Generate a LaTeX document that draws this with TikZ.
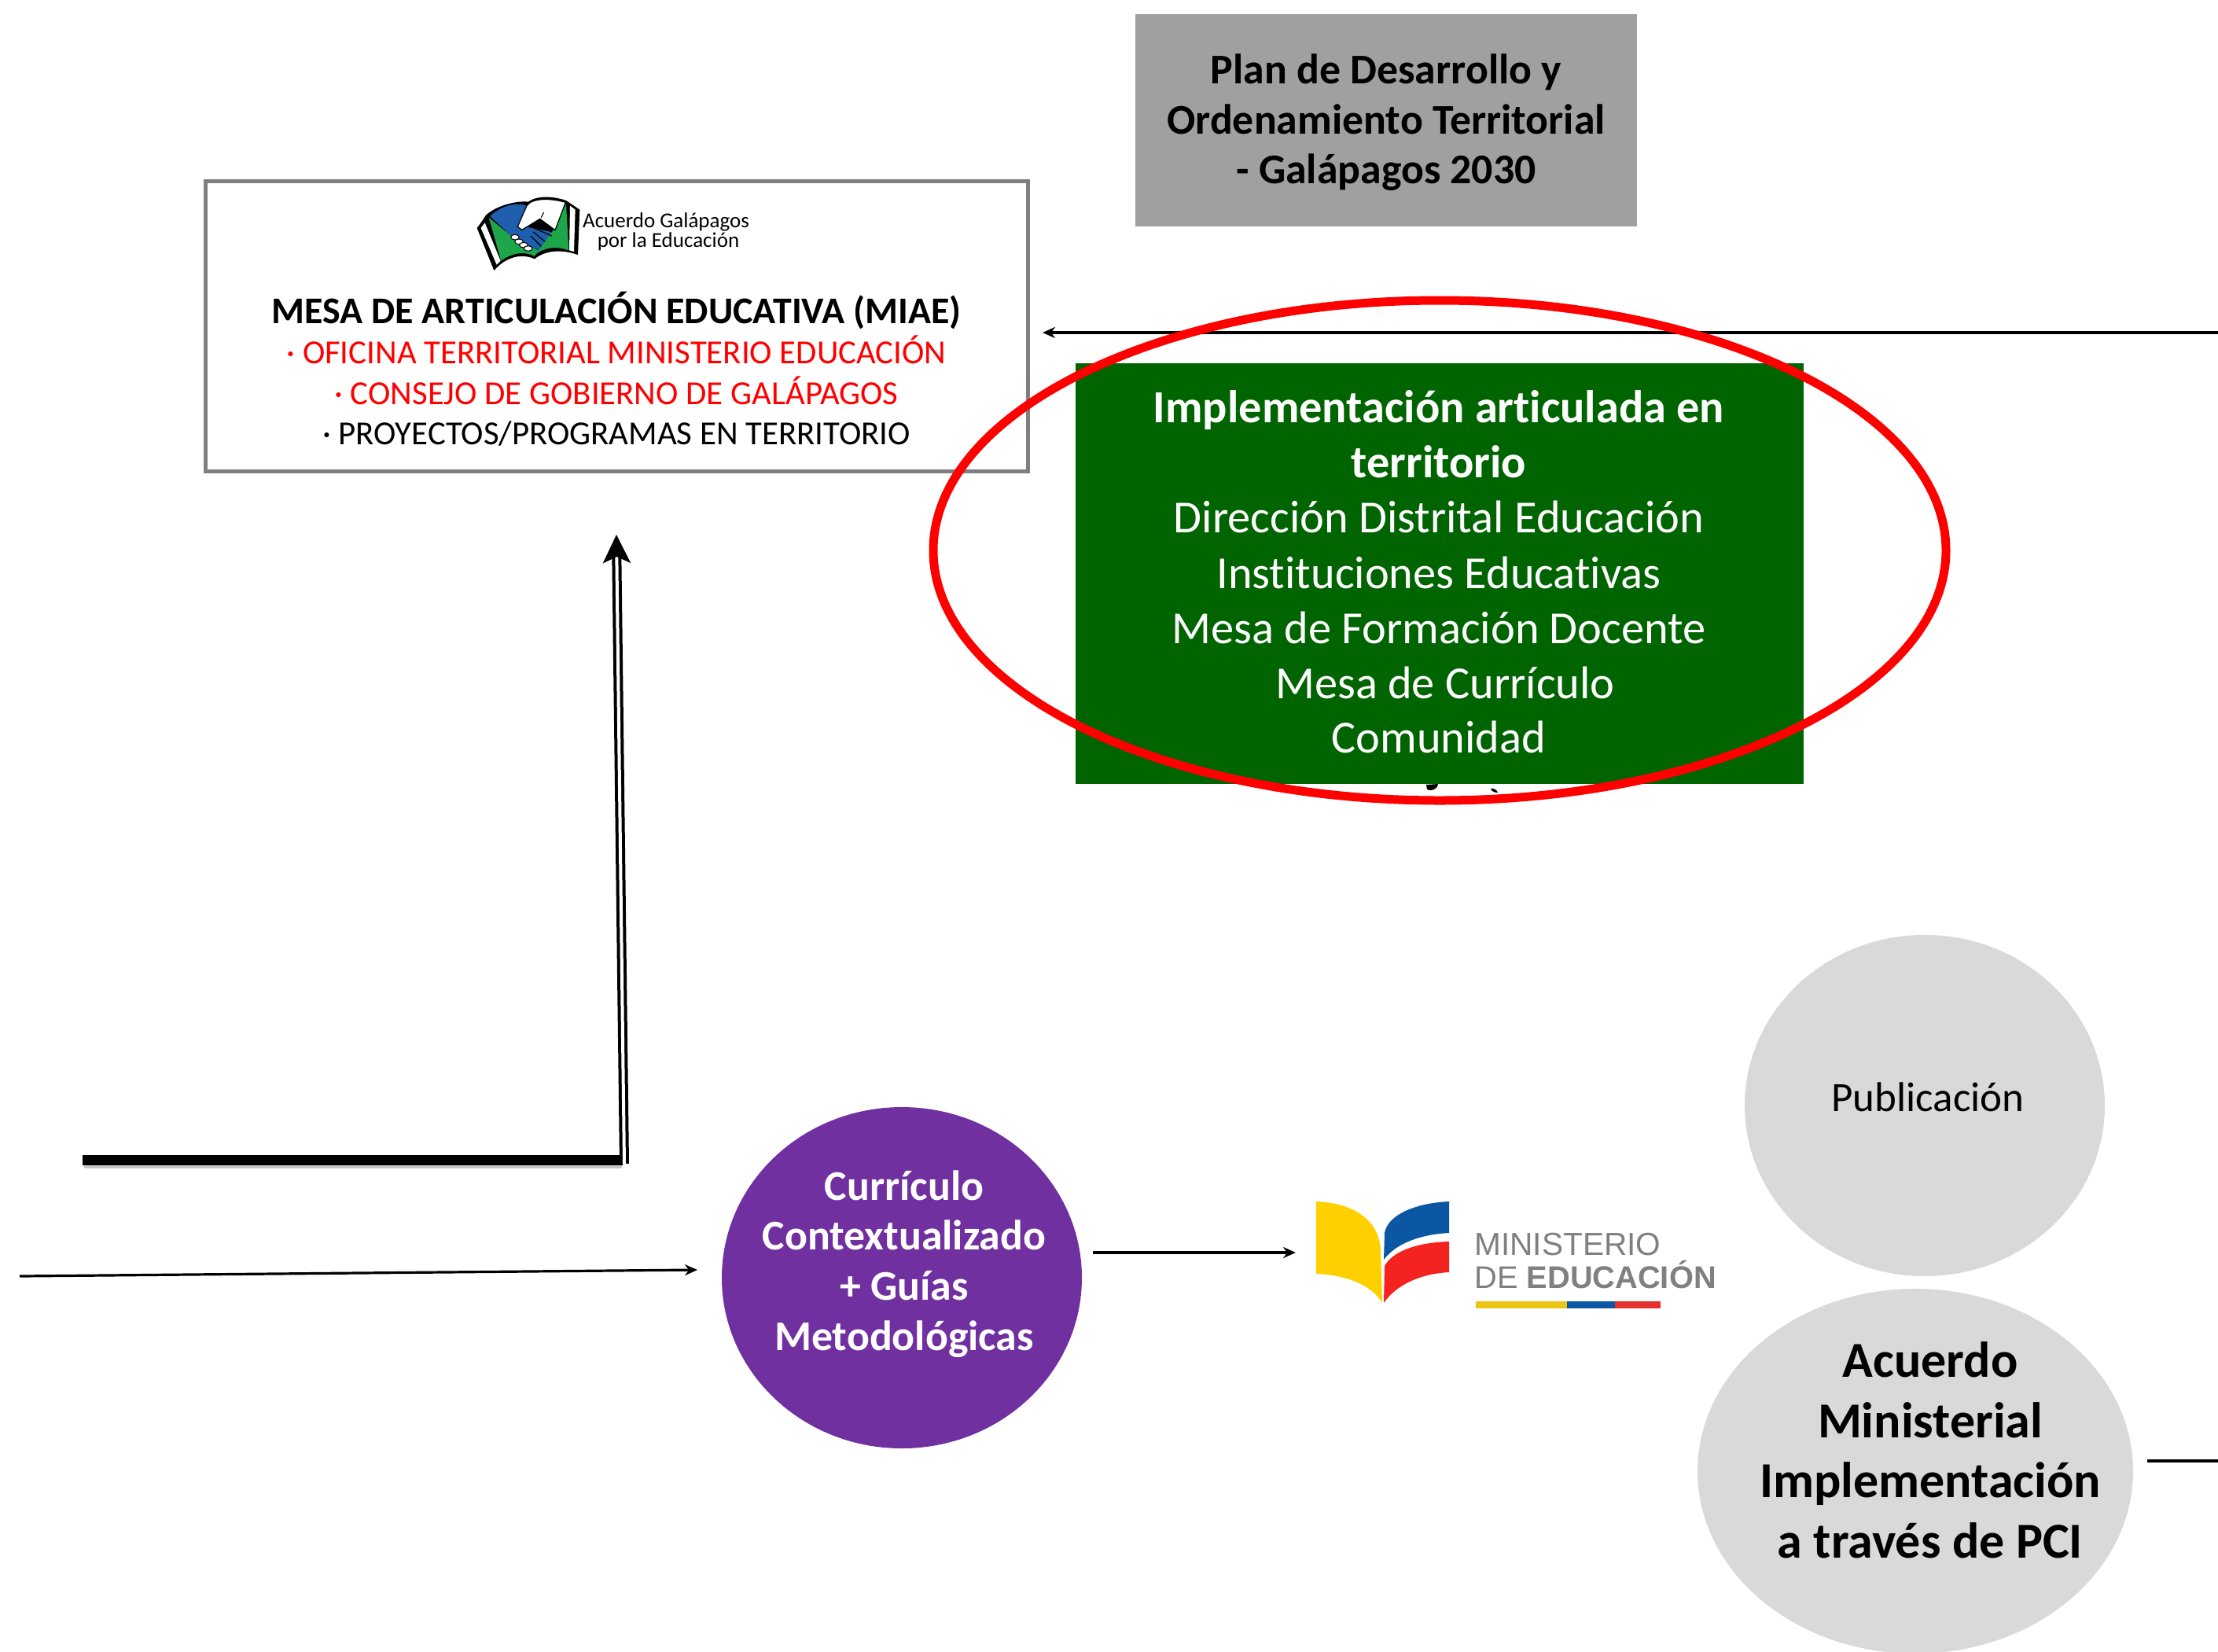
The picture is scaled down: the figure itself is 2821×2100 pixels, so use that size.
\documentclass[tikz,border=0pt]{standalone}
\usepackage{fontspec}
\setmainfont{Carlito}[Ligatures=CommonOff]
\newfontfamily\logosans{Liberation Sans}
\usetikzlibrary{arrows.meta,shapes.geometric}
\definecolor{boxgray}{HTML}{A0A0A0}
\definecolor{framegray}{HTML}{7F7F7F}
\definecolor{darkgreen}{HTML}{006400}
\definecolor{purp}{HTML}{7030A0}
\definecolor{circgray}{HTML}{D9D9D9}
\definecolor{bkblue}{HTML}{1F5FAE}
\definecolor{bkgreen}{HTML}{1EA64A}
\definecolor{meyellow}{HTML}{FFD000}
\definecolor{meblue}{HTML}{0B57A4}
\definecolor{mered}{HTML}{F5231F}
\definecolor{megray}{HTML}{808080}
\tikzset{
  x=0.5pt,y=-0.5pt,
  txt/.style={inner sep=0pt,outer sep=0pt,align=center,anchor=base,yshift=-0.327*#1 pt},
  shapebox/.style={inner sep=0pt,outer sep=0pt,anchor=north west},
  oval/.style={ellipse,inner sep=0pt,outer sep=0pt,anchor=center},
  thinarrow/.style={line width=1.6pt,-{Stealth[length=8pt,width=7pt]}},
  thinline/.style={line width=1.6pt},
}
\newcommand{\fa}{\fontsize{26.9}{32}\selectfont}
\newcommand{\fb}{\fontsize{21.4}{26}\selectfont}
\newcommand{\fbb}{\fontsize{24}{26}\selectfont}
\newcommand{\fc}{\fontsize{29.2}{35}\selectfont}
\newcommand{\fd}{\fontsize{32}{38.4}\selectfont}
\newcommand{\fe}{\fontsize{26.5}{29}\selectfont}
\begin{document}
\begin{tikzpicture}
\useasboundingbox (0,0) rectangle (2821,2100);
% grey plan box
\node[shapebox,fill=boxgray,minimum width=319pt,minimum height=135pt] (plan) at (1444,18) {};
\node[txt=26.9,font=\fa\bfseries] (plana) at (1763,89) {Plan de Desarrollo y};
\node[txt=26.9,font=\fa\bfseries] (planb) at (1763,153) {Ordenamiento Territorial};
\node[txt=26.9,font=\fa\bfseries] (planc) at (1763,216) {- Galápagos 2030};
% MIAE box
\node[shapebox,draw=framegray,line width=2.5pt,fill=white,minimum width=523pt,minimum height=184.5pt] (miae) at (261,230) {};
\node[txt=24,font=\fbb\bfseries] (miaet) at (784,396) {MESA DE ARTICULACIÓN EDUCATIVA (MIAE)};
\node[txt=21.4,font=\fb,text=red] (miaea) at (784,448) {· OFICINA TERRITORIAL MINISTERIO EDUCACIÓN};
\node[txt=21.4,font=\fb,text=red] (miaeb) at (784,500) {· CONSEJO DE GOBIERNO DE GALÁPAGOS};
\node[txt=21.4,font=\fb] (miaec) at (784,551) {· PROYECTOS/PROGRAMAS EN TERRITORIO};
% small logo
\begin{scope}[shift={(560,220)},x=0.16667pt,y=-0.16667pt]
\fill[black] (140,210) -- (205,372) .. controls (260,310) and (320,310) .. (360,328) .. controls (400,295) and (460,290) .. (525,312) -- (532,140) -- (480,105) .. controls (430,88) and (370,85) .. (335,110) .. controls (300,105) and (220,120) .. (175,160) -- (155,190) -- cycle;
\fill[white] (155,210) -- (215,350) -- (230,335) -- (170,190) -- cycle;
\fill[white] (495,125) -- (515,140) -- (510,300) -- (492,295) -- cycle;
\fill[bkgreen] (185,170) -- (232,335) .. controls (280,300) and (330,300) .. (360,318) -- (372,295) -- (270,240) -- cycle;
\fill[bkgreen] (480,118) -- (490,295) .. controls (450,280) and (400,280) .. (362,312) -- (372,295) -- (430,220) -- cycle;
\fill[bkblue] (190,165) .. controls (230,125) and (290,110) .. (330,125) -- (300,200) -- (425,225) -- (375,295) -- (270,240) -- cycle;
\draw[black,line width=0.6pt,fill=white] (330,125) .. controls (350,95) and (420,95) .. (478,112) -- (438,218) -- (380,175) -- (312,217) -- (295,205) -- cycle;
\draw[black,line width=0.6pt] (395,150) -- (385,170) (345,205) -- (425,240) (355,225) -- (400,262) (345,240) -- (385,280);
\foreach \a/\b in {285/245,300/262,318/275,335/288}
  \draw[black,line width=0.5pt,fill=white] (\a,\b) ellipse [x radius=16,y radius=10];
\end{scope}
\node[txt=13.5,font=\fontsize{13.5}{13}\selectfont] (lga) at (847,281) {Acuerdo Galápagos};
\node[txt=13.5,font=\fontsize{13.5}{13}\selectfont] (lgb) at (850,306) {por la Educación};
% specks under the green box
\fill[black] (1814,998) -- (1829,997) .. controls (1828,1004) and (1820,1007) .. (1815,1004) -- cycle;
\fill[black] (1896,1003) .. controls (1900,1002) and (1904,1005) .. (1905,1008) .. controls (1900,1008) and (1897,1006) .. (1896,1003) -- cycle;
% green box
\node[shapebox,fill=darkgreen,minimum width=463pt,minimum height=267.5pt] (impl) at (1368,462) {};
\node[txt=29.2,font=\fc\bfseries,text=white] (impla) at (1830,518) {Implementación articulada en};
\node[txt=29.2,font=\fc\bfseries,text=white] (implb) at (1830,588) {territorio};
\node[txt=29.2,font=\fc,text=white] (implc) at (1830,658) {Dirección Distrital Educación};
\node[txt=29.2,font=\fc,text=white] (impld) at (1830,729) {Instituciones Educativas};
\node[txt=29.2,font=\fc,text=white] (imple) at (1830,799) {Mesa de Formación Docente};
\node[txt=29.2,font=\fc,text=white] (implf) at (1838,869) {Mesa de Currículo};
\node[txt=29.2,font=\fc,text=white] (implg) at (1830,938) {Comunidad};
% arrow to MIAE
\coordinate (rightedge) at (2821,423);
\coordinate (miaeright) at (1326,423);
\draw[thinarrow] (rightedge) -- (miaeright);
% red ellipse
\node[oval,draw=red,line width=5.5pt,minimum width=644pt,minimum height=318pt] (redring) at (1831,700) {};
% double arrow and thick line
\coordinate (thickL) at (105,1475);
\coordinate (thickR) at (792,1475);
\fill[black,opacity=.22] (107,1481) rectangle (791,1486);
\draw[line width=6.5pt] (thickL) -- (thickR);
\coordinate (dblbase) at (794,1480);
\coordinate (dbltip) at (784,680);
\draw[line width=2pt,double=white,double distance=2pt,-{Stealth[length=18pt,width=17.5pt,inset=4pt]}] (dblbase) -- (dbltip);
% purple circle
\node[oval,fill=purp,minimum width=229pt,minimum height=217pt] (curr) at (1147,1625) {};
\node[txt=26.9,font=\fa\bfseries,text=white] (curra) at (1150,1509) {Currículo};
\node[txt=26.9,font=\fa\bfseries,text=white] (currb) at (1150,1572) {Contextualizado};
\node[txt=26.9,font=\fa\bfseries,text=white] (currc) at (1150,1636) {+ Guías};
\node[txt=26.9,font=\fa\bfseries,text=white] (currd) at (1150,1700) {Metodológicas};
\coordinate (leftin) at (25,1623);
\coordinate (currleft) at (887,1615);
\draw[thinarrow] (leftin) -- (currleft);
\coordinate (currright) at (1390,1593);
\coordinate (logoleft) at (1648,1593);
\draw[thinarrow] (currright) -- (logoleft);
% ministry logo
\fill[meyellow] (1674,1528) .. controls (1720,1530) and (1754,1550) .. (1756,1590) -- (1758,1657) .. controls (1745,1635) and (1715,1622) .. (1674,1620) -- cycle;
\fill[meblue] (1843,1528) .. controls (1800,1530) and (1765,1545) .. (1761,1568) -- (1760,1602) .. controls (1775,1582) and (1805,1570) .. (1843,1568) -- cycle;
\fill[mered] (1843,1579) .. controls (1805,1580) and (1772,1590) .. (1761,1610) -- (1760,1657) .. controls (1775,1635) and (1805,1620) .. (1843,1618) -- cycle;
\node[inner sep=0pt,anchor=base west,text=megray,font=\logosans\fontsize{20.3}{24}\selectfont] (melogoa) at (1875,1596) {MINISTERIO};
\node[inner sep=0pt,anchor=base west,text=megray,font=\logosans\fontsize{19.9}{24}\selectfont] (melogob) at (1875,1638) {DE \textbf{EDUCACIÓN}};
\fill[meyellow!85!gray] (1877,1655) rectangle (1993,1664);
\fill[meblue] (1993,1655) rectangle (2054,1664);
\fill[mered!85!gray] (2054,1655) rectangle (2112,1664);
% grey circles
\node[oval,fill=circgray,minimum width=229pt,minimum height=217pt] (pubc) at (2448,1406) {};
\node[txt=26.5,font=\fe] (pub) at (2452,1396) {Publicación};
\node[oval,fill=circgray,minimum width=277pt,minimum height=232pt] (acu) at (2436,1871) {};
\node[txt=32,font=\fd\bfseries] (acua) at (2455,1731) {Acuerdo};
\node[txt=32,font=\fd\bfseries] (acub) at (2455,1808) {Ministerial};
\node[txt=32,font=\fd\bfseries] (acuc) at (2455,1884) {Implementación};
\node[txt=32,font=\fd\bfseries] (acud) at (2455,1961) {a través de PCI};
\coordinate (acuright) at (2731,1858);
\coordinate (rightedgeb) at (2821,1858);
\draw[thinline] (acuright) -- (rightedgeb);
\end{tikzpicture}
\end{document}
